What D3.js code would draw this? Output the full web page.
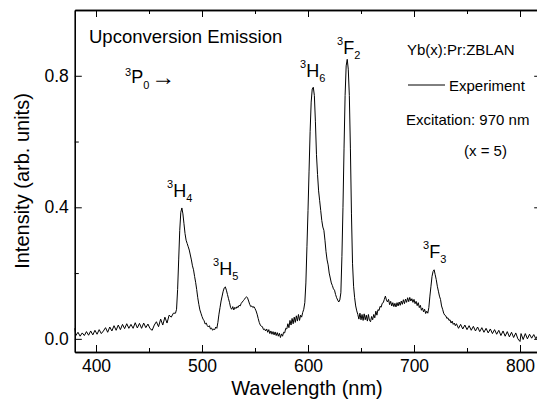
<!DOCTYPE html>
<html>
<head>
<meta charset="utf-8">
<script src="https://cdn.jsdelivr.net/npm/d3@7"></script>
<style>
  body { margin: 0; background: #fff; }
  text { font-family: "Liberation Sans", Arial, sans-serif; fill: #000; }
</style>
</head>
<body>
<div id="chart"></div>
<script>
// spectrum (nm, arb. units)
var wavelength = [
  380,381,383,385,387,389,391,393,395,397,399,401,403,405,407,409,411,413,415,417,419,421,423,425,427,429,
  431,433,435,437,439,441,443,445,447,449,451,453,455,457,459,461,463,465,467,469,471,473,475,476,477,478,
  479,480,481,482,483,484,485,486,487,488,489,490,491,492,493,494,495,496,497,498,499,500,501,502,503,504,
  505,506,507,508,509,510,511,512,513,514,515,516,517,518,519,520,521,522,523,524,525,526,527,528,529,530,
  531,532,533,534,535,536,537,538,539,540,541,542,543,544,545,546,547,548,549,550,551,552,553,554,555,556,
  557,558,559,560,561,562,563,564,565,566,567,568,569,570,571,572,573,574,575,576,577,578,579,580,581,582,
  583,584,585,586,587,588,589,590,591,592,593,594,595,596,597,598,599,600,601,602,603,604,605,606,607,608,
  609,610,611,612,613,614,615,616,617,618,619,620,621,622,623,624,625,626,627,628,629,630,631,632,633,634,
  635,636,637,638,639,640,641,642,643,644,645,646,647,648,649,650,651,652,653,654,655,656,657,658,659,660,
  661,662,663,664,665,666,667,668,669,670,671,672,673,674,675,676,677,678,679,680,681,682,683,684,685,686,
  687,688,689,690,691,692,693,694,695,696,697,698,699,700,701,702,703,704,705,706,707,708,709,710,711,712,
  713,714,715,716,717,718,719,720,721,722,723,724,725,726,727,728,729,730,731,732,733,734,735,736,737,738,
  739,740,742,744,746,748,750,752,754,756,758,760,762,764,766,768,770,772,774,776,778,780,782,784,786,788,
  790,792,794,796,798,800,801,803,805,807,809,811,813,815,817,819
];
var intensity = [
  0.032,0.010,0.020,0.008,0.018,0.010,0.022,0.011,0.024,0.012,0.026,0.014,0.028,0.016,0.024,0.034,0.020,0.036,0.024,0.040,0.026,0.042,0.028,0.044,0.031,0.046,
  0.032,0.044,0.032,0.049,0.033,0.047,0.032,0.048,0.034,0.045,0.031,0.026,0.042,0.052,0.037,0.060,0.042,0.066,0.048,0.072,0.066,0.078,0.078,0.090,0.150,0.240,
  0.330,0.385,0.398,0.380,0.350,0.320,0.300,0.290,0.280,0.270,0.255,0.240,0.222,0.210,0.190,0.172,0.150,0.125,0.105,0.088,0.078,0.068,0.060,0.055,0.045,0.048,
  0.040,0.036,0.040,0.030,0.033,0.026,0.030,0.028,0.036,0.032,0.050,0.075,0.095,0.115,0.130,0.145,0.155,0.158,0.148,0.135,0.122,0.110,0.095,0.090,0.098,0.088,
  0.096,0.092,0.098,0.095,0.102,0.100,0.108,0.112,0.116,0.120,0.125,0.128,0.124,0.115,0.105,0.098,0.100,0.095,0.098,0.092,0.085,0.075,0.062,0.050,0.042,0.038,
  0.037,0.028,0.030,0.024,0.030,0.020,0.028,0.016,0.024,0.014,0.022,0.012,0.021,0.010,0.019,0.008,0.017,0.004,0.015,0.008,0.020,0.018,0.032,0.030,0.046,0.034,
  0.056,0.042,0.062,0.046,0.066,0.050,0.070,0.054,0.074,0.056,0.072,0.066,0.080,0.090,0.110,0.170,0.280,0.390,0.510,0.630,0.720,0.760,0.765,0.740,0.660,0.560,
  0.500,0.450,0.420,0.390,0.360,0.340,0.330,0.300,0.265,0.240,0.225,0.200,0.185,0.170,0.162,0.152,0.148,0.135,0.125,0.118,0.112,0.118,0.140,0.250,0.400,0.580,
  0.740,0.830,0.850,0.820,0.740,0.580,0.380,0.230,0.160,0.125,0.100,0.085,0.074,0.060,0.078,0.058,0.074,0.056,0.076,0.058,0.072,0.054,0.074,0.056,0.052,0.068,
  0.058,0.074,0.064,0.084,0.072,0.089,0.086,0.099,0.096,0.108,0.110,0.120,0.130,0.118,0.112,0.120,0.104,0.114,0.100,0.110,0.098,0.108,0.097,0.110,0.100,0.112,
  0.102,0.115,0.105,0.119,0.107,0.121,0.111,0.125,0.113,0.126,0.115,0.122,0.111,0.120,0.107,0.114,0.101,0.110,0.095,0.102,0.087,0.094,0.082,0.090,0.077,0.084,
  0.078,0.095,0.130,0.160,0.190,0.205,0.210,0.195,0.180,0.160,0.145,0.130,0.120,0.100,0.090,0.078,0.072,0.070,0.062,0.064,0.056,0.058,0.048,0.054,0.044,0.048,
  0.040,0.046,0.032,0.044,0.030,0.042,0.028,0.040,0.026,0.038,0.024,0.036,0.022,0.034,0.020,0.032,0.018,0.030,0.016,0.028,0.014,0.026,0.010,0.024,0.008,0.022,
  0.006,0.020,0.004,0.018,0.000,-0.008,0.016,-0.002,0.016,0.000,0.014,0.002,0.013,0.000,0.012,0.006
];

var xTicks = [400, 500, 600, 700, 800];
var xMinor = [450, 550, 650, 750];
var yTicks = [0.0, 0.4, 0.8];
var yMinor = [0.2, 0.6];

// peak labels: term, subscript, anchor (nm, intensity)
var peakTerms = ["H", "H", "H", "F", "F"];
var peakSubs = ["4", "5", "6", "2", "3"];
var peakAt = [[467, 0.431], [510.4, 0.194], [592.5, 0.796], [627.4, 0.866], [708.5, 0.246]];

var width = 537, height = 402;
var margin = {left: 74.8, top: 10, right: -4.2, bottom: 50};
var w = width - margin.left - margin.right,
    h = height - margin.top - margin.bottom;

var svg = d3.select("#chart").append("svg")
    .attr("width", width)
    .attr("height", height);
var g = svg.append("g").attr("transform", "translate(" + margin.left + "," + margin.top + ")");

var x = d3.scaleLinear().domain([380, 820]).range([0, w]);
var y = d3.scaleLinear().domain([-0.04, 1.0]).range([h, 0]);

function styleAxis(sel) {
  sel.select(".domain").attr("stroke", "#000").attr("stroke-width", 1.3);
  sel.selectAll(".tick line").attr("stroke", "#000").attr("stroke-width", 1);
  sel.selectAll(".tick text").style("font-size", "17.5px").attr("fill", "#000");
}

// bottom
g.append("g")
    .attr("transform", "translate(0," + h + ")")
    .call(d3.axisBottom(x).tickValues(xTicks).tickFormat(d3.format("d"))
      .tickSizeInner(-7).tickSizeOuter(0).tickPadding(8))
    .call(styleAxis);
g.append("g")
    .attr("transform", "translate(0," + h + ")")
    .call(d3.axisBottom(x).tickValues(xMinor).tickFormat("").tickSizeInner(-4).tickSizeOuter(0))
    .call(styleAxis);
// top
g.append("g")
    .call(d3.axisTop(x).tickValues(xTicks).tickFormat("").tickSizeInner(-7).tickSizeOuter(0))
    .call(styleAxis);
g.append("g")
    .call(d3.axisTop(x).tickValues(xMinor).tickFormat("").tickSizeInner(-4).tickSizeOuter(0))
    .call(styleAxis);
// left
g.append("g")
    .call(d3.axisLeft(y).tickValues(yTicks).tickFormat(d3.format(".1f"))
      .tickSizeInner(-7).tickSizeOuter(0).tickPadding(6))
    .call(styleAxis);
g.append("g")
    .call(d3.axisLeft(y).tickValues(yMinor).tickFormat("").tickSizeInner(-4).tickSizeOuter(0))
    .call(styleAxis);
// right (falls just outside the picture)
g.append("g")
    .attr("transform", "translate(" + w + ",0)")
    .call(d3.axisRight(y).tickValues(yTicks).tickFormat("").tickSizeInner(-7).tickSizeOuter(0))
    .call(styleAxis);

var line = d3.line()
    .x(function(d, i) { return x(wavelength[i]); })
    .y(function(d) { return y(d); });

g.append("path")
    .datum(intensity)
    .attr("fill", "none")
    .attr("stroke", "#000")
    .attr("stroke-width", 1)
    .attr("stroke-linejoin", "round")
    .attr("d", line);

// peak labels
peakTerms.forEach(function(t, i) {
  var lab = g.append("text")
      .attr("x", x(peakAt[i][0]))
      .attr("y", y(peakAt[i][1]));
  lab.append("tspan").style("font-size", "11px").attr("dy", -9).text("3");
  lab.append("tspan").style("font-size", "18px").attr("dy", 9).text(t);
  lab.append("tspan").style("font-size", "11px").attr("dy", 5).text(peakSubs[i]);
});

// annotations
svg.append("text")
    .attr("x", 89).attr("y", 43)
    .style("font-size", "18.5px")
    .text("Upconversion Emission");

var p0 = svg.append("text").attr("x", 125).attr("y", 83);
p0.append("tspan").style("font-size", "11px").attr("dy", -7).text("3");
p0.append("tspan").style("font-size", "18px").attr("dy", 7).text("P");
p0.append("tspan").style("font-size", "11px").attr("dy", 6).text("0");
p0.append("tspan").style("font-size", "24px")
    .attr("dy", -4).attr("dx", 2).text("\u2192");

svg.append("text")
    .attr("x", 407).attr("y", 55)
    .style("font-size", "15px")
    .text("Yb(x):Pr:ZBLAN");

svg.append("line")
    .attr("x1", 408).attr("x2", 445)
    .attr("y1", 85).attr("y2", 85)
    .attr("stroke", "#000").attr("stroke-width", 1);
svg.append("text")
    .attr("x", 449).attr("y", 91)
    .style("font-size", "15px")
    .text("Experiment");

svg.append("text")
    .attr("x", 406).attr("y", 125)
    .style("font-size", "15px")
    .text("Excitation: 970 nm");

svg.append("text")
    .attr("x", 464).attr("y", 156)
    .style("font-size", "15px")
    .text("(x = 5)");

// axis titles
svg.append("text")
    .attr("x", 307).attr("y", 395)
    .style("text-anchor", "middle")
    .style("font-size", "20px")
    .text("Wavelength (nm)");

svg.append("text")
    .attr("transform", "rotate(-90)")
    .attr("x", -(margin.top + h / 2))
    .attr("y", 28.5)
    .style("text-anchor", "middle")
    .style("font-size", "20px")
    .text("Intensity (arb. units)");
</script>
</body>
</html>
